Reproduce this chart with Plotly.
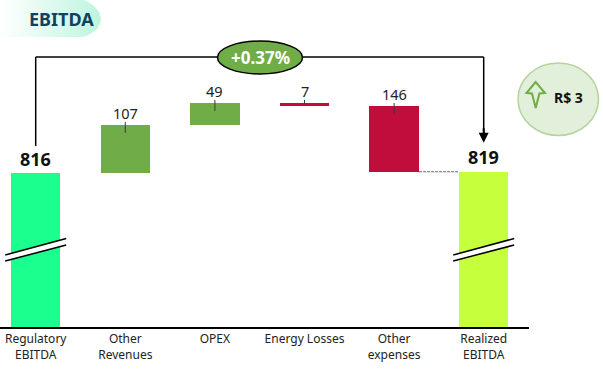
import plotly.graph_objects as go

categories = ["Regulatory<br>EBITDA", "Other<br>Revenues", "OPEX", "Energy Losses", "Other<br>expenses", "Realized<br>EBITDA"]
deltas = [816, 107, 49, -7, -146, 819]
labels = ["816", "107", "49", "7", "146", "819"]
colors = ["#1BFF8F", "#70AD47", "#70AD47", "#C00D3C", "#C00D3C", "#C6FF3C"]
variation = "+0.37%"
header = "EBITDA"
result = "R$ 3"

AXIS_BASE = 474          # the axis is broken: it starts above zero
W, H = 603, 370
BOTTOM = 43
PX_PER_UNIT = 0.45
SPACING = 89.6
LEFT = 35.7
AX_W = 529
FONT = "Noto Sans"

u = lambda px: px / PX_PER_UNIT
x_idx = list(range(len(categories)))

# floating bars
bases, heights, tops = [], [], []
level = 0
for i, d in enumerate(deltas):
    if i == 0 or i == len(deltas) - 1:
        bases.append(AXIS_BASE); heights.append(d - AXIS_BASE); level = d; tops.append(d)
    else:
        new = level + d
        bases.append(min(level, new)); heights.append(abs(d)); tops.append(max(level, new)); level = new

fig = go.Figure()
fig.add_bar(x=x_idx, y=heights, base=bases, marker=dict(color=colors, line_width=0),
            width=49.5 / SPACING, hoverinfo="skip", showlegend=False)

# header pill with a real gradient, on a pixel-mapped free axis
pill_x = [0, 84, 90, 95, 99, 101, 100, 97, 92, 86, 82, 0, 0]
pill_y = [0, 0, 3, 7, 12, 18, 24, 29, 33, 36, 37, 37, 0]
fig.add_scatter(x=pill_x, y=pill_y, xaxis="x2", yaxis="y2", mode="lines", line_width=0,
                fill="toself", hoverinfo="skip", showlegend=False,
                fillgradient=dict(type="horizontal", colorscale=[[0, "#FFFFFF"], [1, "#BDF5DE"]]))

shapes, ann = [], []

def line(x0, y0, x1, y1, color="black", width=1.5, dash="solid", ref="data"):
    xr, yr = ("x", "y") if ref == "data" else ("x2", "y2")
    shapes.append(dict(type="line", x0=x0, y0=y0, x1=x1, y1=y1, xref=xr, yref=yr,
                       line=dict(color=color, width=width, dash=dash)))

def text(x, y, s, size, color="#111111", bold=False, ref="data"):
    xr, yr = ("x", "y") if ref == "data" else ("x2", "y2")
    ann.append(dict(x=x, y=y, xref=xr, yref=yr, text=f"<b>{s}</b>" if bold else s, showarrow=False,
                    font=dict(size=size, color=color, family=FONT), xanchor="center", yanchor="middle"))

# value labels and the small ticks that join them to the bars
for i in x_idx:
    if 0 < i < len(x_idx) - 1:
        text(i, tops[i] + u(12), labels[i], 14.5, color="#222222")
        line(i, tops[i] + u(3), i, tops[i] - u(8 if i != 3 else 1), color="#3A3A3A", width=1)
text(0, tops[0] + u(14), labels[0], 18, bold=True)
text(5, tops[5] + u(14.5), labels[5], 18, bold=True)

# connector between "Other expenses" and "Realized EBITDA"
line(4 + 25 / SPACING, deltas[5], 5 - 25 / SPACING, deltas[5], color="#666666", width=1, dash="3px,1px")

# bracket
bracket_y = AXIS_BASE + u(327 - 57)
line(0, tops[0] + u(27), 0, bracket_y)
line(0, bracket_y, 5, bracket_y)
line(5, bracket_y, 5, tops[5] + u(31))
ann.append(dict(x=5, y=tops[5] + u(29), ax=5, ay=tops[5] + u(45), xref="x", yref="y", axref="x", ayref="y",
                text="", showarrow=True, arrowhead=2, arrowsize=1, arrowwidth=2, arrowcolor="black"))

# variation ellipse
shapes.append(dict(type="circle", xref="x2", yref="y2", x0=217.5, x1=302.5, y0=41, y1=74,
                   fillcolor="#70AD47", line=dict(color="black", width=1.5)))
text(260, 57.5, variation, 17, color="white", bold=True, ref="px")

# axis-break marks
for i in (0, 5):
    cx = LEFT + i * SPACING
    x0, x1 = cx - 30.5, cx + 30.5
    shapes.append(dict(type="path", xref="x2", yref="y2",
                       path=f"M {x0},255 L {x1},238.5 L {x1},245 L {x0},261 Z",
                       fillcolor="white", line_width=0))
    line(x0, 255, x1, 238.5, width=1.5, ref="px")
    line(x0, 261, x1, 245, width=1.5, ref="px")

# result badge
shapes.append(dict(type="circle", xref="x2", yref="y2", x0=518, x1=598.5, y0=63, y1=135.5,
                   fillcolor="#E2EFDA", line=dict(color="#B5D39E", width=1.5)))
shapes.append(dict(type="path", xref="x2", yref="y2",
                   path="M 535.7,82 L 526.5,93 L 532,93.5 L 535.7,108 L 539.4,93.5 L 545,93 Z",
                   fillcolor="#E2EFDA", line=dict(color="#70AD47", width=2)))
text(568, 97, result, 14, bold=True, ref="px")

text(61.5, 19, header, 18, color="#12405F", bold=True, ref="px")

fig.update_layout(
    width=W, height=H, margin=dict(l=0, r=0, t=0, b=0), autosize=False,
    paper_bgcolor="white", plot_bgcolor="rgba(0,0,0,0)", bargap=0, showlegend=False,
    shapes=shapes, annotations=ann,
    font=dict(family=FONT, color="#222222"),
    xaxis=dict(domain=[0, AX_W / W], range=[-LEFT / SPACING, (AX_W - LEFT) / SPACING],
               tickmode="array", tickvals=x_idx, ticktext=categories, showgrid=False, zeroline=False,
               showline=True, linecolor="black", linewidth=1.5, ticks="", tickfont=dict(size=12, color="#222222")),
    yaxis=dict(domain=[BOTTOM / H, 1], range=[AXIS_BASE, AXIS_BASE + u(H - BOTTOM)],
               visible=False, showgrid=False, zeroline=False),
    xaxis2=dict(domain=[0, 1], range=[0, W], visible=False, anchor="y2"),
    yaxis2=dict(domain=[0, 1], range=[H, 0], visible=False, anchor="x2"),
)

fig.write_html("out.html", config=dict(displayModeBar=False),
               post_script="document.body.style.margin='0';")
